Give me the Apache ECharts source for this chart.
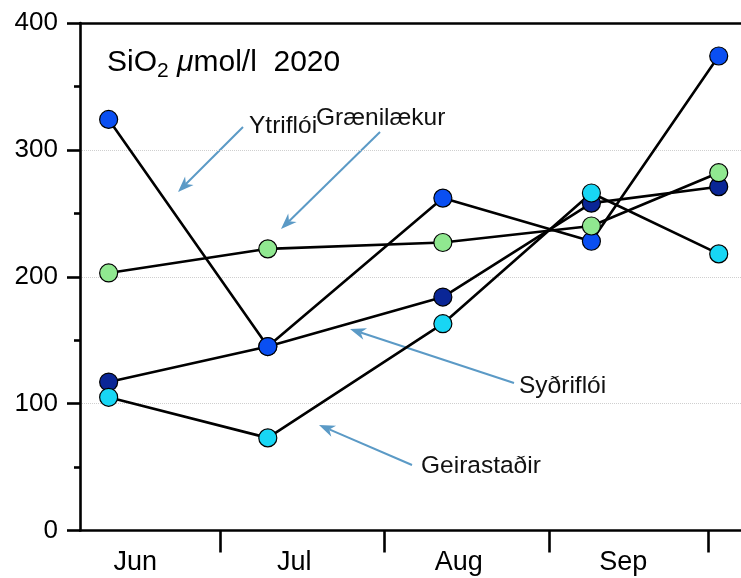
<!DOCTYPE html>
<html>
<head>
<meta charset="utf-8">
<script src="https://cdn.jsdelivr.net/npm/echarts@6/dist/echarts.min.js"></script>
<style>
  html, body { margin: 0; padding: 0; background: #fff; }
  #chart { width: 741px; height: 578px; }
</style>
</head>
<body>
<div id="chart"></div>
<script>
// Sampling dates and silicate concentrations (µmol/l) per station, 2020
const sampleDates  = ['2020-06-10', '2020-07-10', '2020-08-12', '2020-09-09', '2020-10-03'];
const sydrifloi    = [117, 145, 184, 258, 271];
const ytrifloi     = [324, 145, 262, 228, 374];
const graenilaekur = [203, 222, 227, 240, 282];
const geirastadir  = [105, 73, 163, 266, 218];

// Month labels sit mid-month, ticks mark the month boundaries
const monthLabels = ['Jun', 'Jul', 'Aug', 'Sep'];
const labelDates  = ['2020-06-15', '2020-07-15', '2020-08-15', '2020-09-15'];
const tickDates   = ['2020-07-01', '2020-08-01', '2020-09-01', '2020-10-01'];

const yTicks = [0, 100, 200, 300, 400];

const FONT = '"Liberation Sans", Arial, Helvetica, sans-serif';
const DAY = 86400000;

function ts(s) {
  const [y, m, d] = s.split('-').map(Number);
  return Date.UTC(y, m - 1, d);
}

const labelTs = labelDates.map(ts);
const tickTs = tickDates.map(ts);
const xMin = ts('2020-06-01') + 3.6 * DAY;
const xMax = xMin + 124.6 * DAY;

function pairs(vals) {
  return sampleDates.map((d, i) => [ts(d), vals[i]]);
}

function stationSeries(name, vals, color) {
  return {
    name: name,
    type: 'line',
    data: pairs(vals),
    symbol: 'circle',
    symbolSize: 18,
    lineStyle: { color: '#000', width: 2.6 },
    itemStyle: { color: color, borderColor: '#000', borderWidth: 1.2 },
    emphasis: { disabled: true }
  };
}

// Callout arrow with a stealth-style head
const ARROW = '#5b9ac6';
function arrow(x1, y1, x2, y2) {
  const a = Math.atan2(y2 - y1, x2 - x1);
  const c = Math.cos(a), s = Math.sin(a);
  const L = 16, W = 6;
  const bx = x2 - L * c, by = y2 - L * s;
  const nx = x2 - 0.7 * L * c, ny = y2 - 0.7 * L * s;
  return [
    { type: 'line', silent: true, shape: { x1: x1, y1: y1, x2: nx, y2: ny },
      style: { stroke: ARROW, lineWidth: 2 } },
    { type: 'polygon', silent: true,
      shape: { points: [[x2, y2], [bx + W * s, by - W * c], [nx, ny], [bx - W * s, by + W * c]] },
      style: { fill: ARROW } }
  ];
}

function label(text, x, y) {
  return { type: 'text', silent: true, x: x, y: y,
    style: { text: text, font: '24.5px ' + FONT, fill: '#111', textVerticalAlign: 'middle' } };
}

const chart = echarts.init(document.getElementById('chart'), null, { renderer: 'canvas' });

chart.setOption({
  animation: false,
  backgroundColor: '#fff',
  grid: { left: 80, right: 0, top: 23, bottom: 47.5 },
  xAxis: [{
    type: 'value',
    min: xMin,
    max: xMax,
    axisLine: { show: true, lineStyle: { color: '#000', width: 2.6 } },
    axisTick: { show: true, customValues: tickTs, length: 22, inside: false,
      lineStyle: { color: '#000', width: 2.6 } },
    axisLabel: {
      customValues: labelTs,
      formatter: function (v) { return monthLabels[labelTs.indexOf(v)] || ''; },
      fontSize: 27, fontFamily: FONT, color: '#000', margin: 19
    },
    splitLine: { show: false },
    minorTick: { show: false }
  }, {
    type: 'value',
    position: 'top',
    min: xMin,
    max: xMax,
    axisLine: { show: true, lineStyle: { color: '#000', width: 2.6 } },
    axisTick: { show: false },
    axisLabel: { show: false },
    splitLine: { show: false }
  }],
  yAxis: {
    type: 'value',
    min: yTicks[0],
    max: yTicks[yTicks.length - 1],
    interval: 100,
    axisLine: { show: true, lineStyle: { color: '#000', width: 2.6 } },
    axisTick: { show: true, length: 13, lineStyle: { color: '#000', width: 2.6 } },
    minorTick: { show: true, splitNumber: 2, length: 6, lineStyle: { color: '#000', width: 2.6 } },
    axisLabel: { fontSize: 26, fontFamily: FONT, color: '#000', margin: 22 },
    splitLine: { show: true, lineStyle: { type: 'dotted', color: '#cfcfcf', width: 1 } }
  },
  series: [
    stationSeries('Syðriflói', sydrifloi, '#0a2696'),
    stationSeries('Ytriflói', ytrifloi, '#0a4ff2'),
    stationSeries('Grænilækur', graenilaekur, '#90e890'),
    stationSeries('Geirastaðir', geirastadir, '#18d6f4')
  ],
  graphic: [
    {
      type: 'text', silent: true, x: 107, y: 63,
      style: {
        text: '{a|SiO}{s|2}{a| }{m|μ}{a|mol/l  2020}',
        textVerticalAlign: 'middle',
        rich: {
          a: { fontSize: 30, fontFamily: FONT, color: '#111' },
          s: { fontSize: 21, fontFamily: FONT, color: '#111', padding: [16, 0, 0, 0] },
          m: { fontSize: 30, fontFamily: FONT, color: '#111', fontStyle: 'italic' }
        }
      }
    },
    label('Ytriflói', 249, 126),
    label('Grænilækur', 316, 118),
    label('Syðriflói', 519, 386),
    label('Geirastaðir', 421, 466),
    ...arrow(243, 127, 178, 192),
    ...arrow(380, 132, 281, 229),
    ...arrow(514, 383, 350, 329),
    ...arrow(412, 465, 319, 425)
  ]
});
</script>
</body>
</html>
